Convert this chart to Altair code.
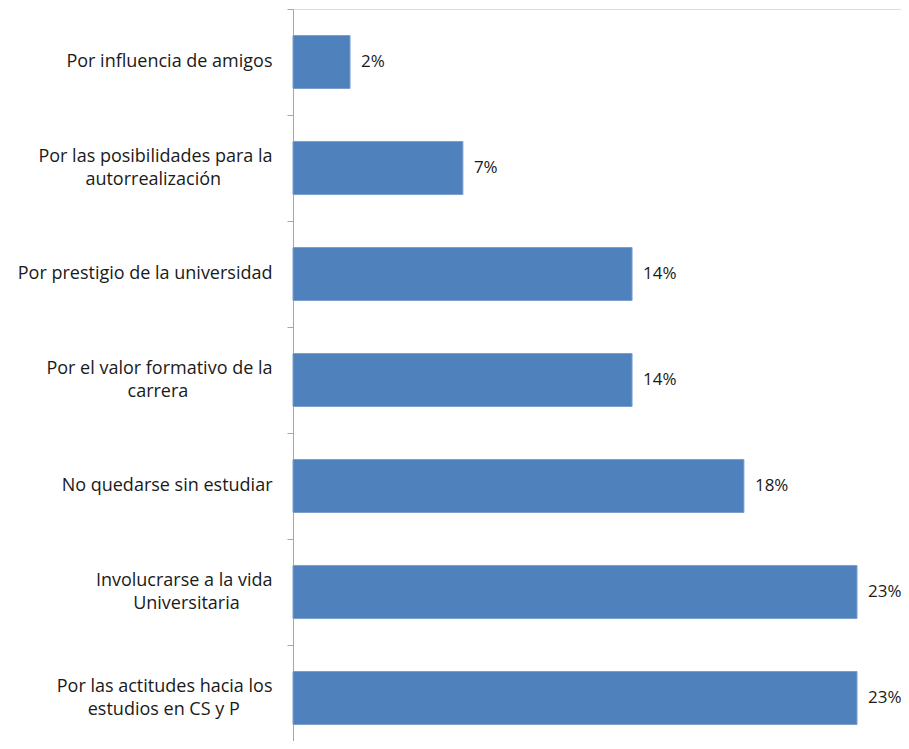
import altair as alt
import pandas as pd

# Data (top to bottom)
line1 = [
    "Por influencia de amigos",
    "Por las posibilidades para la",
    "Por prestigio de la universidad",
    "Por el valor formativo de la",
    "No quedarse sin estudiar",
    "Involucrarse a la vida",
    "Por las actitudes hacia los",
]
line2 = [
    "",
    "autorrealización",
    "",
    "carrera",
    "",
    "Universitaria",
    "estudios en CS y P",
]
values = [0.0233, 0.0694, 0.1385, 0.1385, 0.1842, 0.2304, 0.2304]

# trailing non-breaking spaces to centre the 2nd line under the 1st (layout only)
pad2 = [0, 11, 0, 18, 0, 7, 7]

labels = []
for a, b, p in zip(line1, line2, pad2):
    labels.append(a if not b else a + "|" + b + "\u00a0" * p + "\u200b")

df = pd.DataFrame({"motivo": labels, "valor": values})
order = labels

FONT = "Open Sans"
FS = 18

y_enc = alt.Y(
    "motivo:N",
    sort=order,
    scale=alt.Scale(paddingInner=0.5, paddingOuter=0.25, range=[0, 742]),
    axis=alt.Axis(
        title=None,
        labelExpr="split(datum.label, '|')",
        labelFont=FONT,
        labelFontSize=FS,
        labelColor="#1a1a1a",
        labelAlign="right",
        labelBaseline="middle",
        labelLineHeight=23,
        labelOffset={"condition": {"test": "indexof(datum.value, '|') >= 0", "value": -11}, "value": 0},
        labelPadding=15,
        labelLimit=400,
        tickSize=6,
        tickColor="#a6a6a6",
        domainColor="#a6a6a6",
        bandPosition=-0.5,
        ticks=True,
        grid=False,
    ),
)
x_enc = alt.X("valor:Q", scale=alt.Scale(domain=[0, 0.25], range=[0, 612], nice=False), axis=None)

bars = alt.Chart(df).mark_bar(color="#4F81BD", stroke="#7A9FCF", strokeWidth=1).encode(
    x=x_enc, y=y_enc
)
text = alt.Chart(df).mark_text(
    align="left", baseline="middle", dx=11, font=FONT, fontSize=17, color="#1a1a1a"
).encode(x=x_enc, y=y_enc, text=alt.Text("valor:Q", format=".0%"))

chart = (
    alt.layer(bars, text)
    .properties(
        width=608,
        height=732,
        autosize=alt.AutoSizeParams(type="none"),
        padding={"left": 285, "top": 1, "right": 0, "bottom": 0},
    )
    .configure_view(stroke=None)
    .configure(background="white")
)

chart.save("out.html", embed_options={"renderer": "svg", "actions": False})
